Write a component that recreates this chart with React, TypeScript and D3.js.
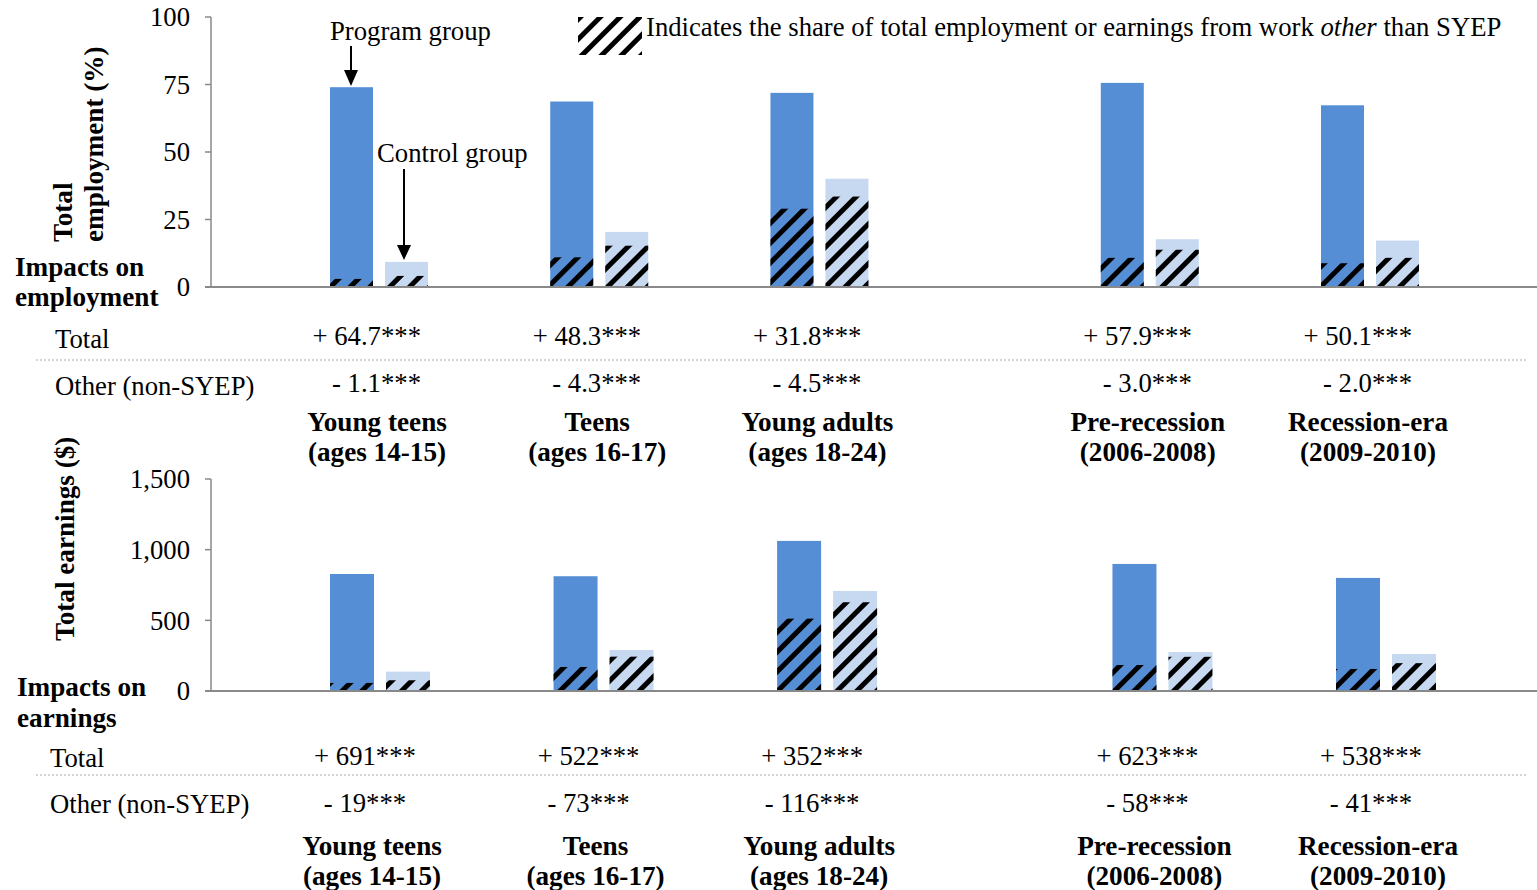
import React from "react";
import * as d3 from "d3";

const categoriesLine1 = ["Young teens", "Teens", "Young adults", "Pre-recession", "Recession-era"];
const categoriesLine2 = ["(ages 14-15)", "(ages 16-17)", "(ages 18-24)", "(2006-2008)", "(2009-2010)"];
const categorySlots = [0, 1, 2, 3.5, 4.5];

const empProgram = [74.0, 68.7, 71.9, 75.6, 67.3];
const empControl = [9.3, 20.4, 40.1, 17.7, 17.2];
const empProgramOther = [3.0, 11.0, 29.0, 10.8, 8.8];
const empControlOther = [4.1, 15.3, 33.5, 13.8, 10.8];
const empTotalImpact = ["+ 64.7***", "+ 48.3***", "+ 31.8***", "+ 57.9***", "+ 50.1***"];
const empOtherImpact = ["- 1.1***", "- 4.3***", "- 4.5***", "- 3.0***", "- 2.0***"];
const empTicks = [0, 25, 50, 75, 100];

const earnProgram = [828, 812, 1062, 899, 800];
const earnControl = [137, 290, 708, 276, 262];
const earnProgramOther = [57, 170, 512, 184, 156];
const earnControlOther = [76, 243, 628, 242, 197];
const earnTotalImpact = ["+ 691***", "+ 522***", "+ 352***", "+ 623***", "+ 538***"];
const earnOtherImpact = ["- 19***", "- 73***", "- 116***", "- 58***", "- 41***"];
const earnTicks = [0, 500, 1000, 1500];

const PROGRAM = "#558ED5";
const CONTROL = "#C6D9F1";
const AXIS = "#898989";
const FONT = "'Liberation Serif', 'Times New Roman', serif";
const FS = 26.7;
const FB = 27.2;

type PanelProps = {
  program: number[];
  control: number[];
  programOther: number[];
  controlOther: number[];
  ticks: number[];
  domainMax: number;
  yTop: number;
  yBottom: number;
  xFirst: number;
  xLast: number;
  barW: number;
  tickFmt: (v: number) => string;
};

function Panel(p: PanelProps) {
  const y = d3.scaleLinear().domain([0, p.domainMax]).range([p.yBottom, p.yTop]);
  const x = d3.scaleLinear().domain([0, 4.5]).range([p.xFirst, p.xLast]);
  const gap = 6;
  return (
    <g>
      {p.program.map((v, i) => {
        const c = x(categorySlots[i]);
        const px = c - gap - p.barW;
        const cx = c + gap;
        return (
          <g key={i}>
            <rect x={px} y={y(v)} width={p.barW} height={p.yBottom - y(v)} fill={PROGRAM} />
            <rect x={px} y={y(p.programOther[i])} width={p.barW} height={p.yBottom - y(p.programOther[i])} fill="url(#hatch)" />
            <rect x={cx} y={y(p.control[i])} width={p.barW} height={p.yBottom - y(p.control[i])} fill={CONTROL} />
            <rect x={cx} y={y(p.controlOther[i])} width={p.barW} height={p.yBottom - y(p.controlOther[i])} fill="url(#hatch)" />
          </g>
        );
      })}
      <line x1={211} x2={211} y1={p.yTop} y2={p.yBottom} stroke={AXIS} strokeWidth={1.5} />
      {p.ticks.map((t) => (
        <g key={t}>
          <line x1={205} x2={211} y1={y(t)} y2={y(t)} stroke={AXIS} strokeWidth={1.5} />
          <text x={190} y={y(t)} dy="0.35em" textAnchor="end" fontSize={FS}>
            {p.tickFmt(t)}
          </text>
        </g>
      ))}
      <line x1={205} x2={1537} y1={p.yBottom} y2={p.yBottom} stroke={AXIS} strokeWidth={2} />
    </g>
  );
}

export default function App() {
  const xTop = d3.scaleLinear().domain([0, 4.5]).range([379, 1370]);
  const xBot = d3.scaleLinear().domain([0, 4.5]).range([380, 1386]);
  return (
    <svg
      width={1537}
      height={890}
      style={{ position: "absolute", left: 0, top: 0, display: "block", background: "#fff" }}
      fontFamily={FONT}
      fill="#000"
    >
      <defs>
        <pattern id="hatch" patternUnits="userSpaceOnUse" width={14} height={14} patternTransform="rotate(45)">
          <rect x={0} y={0} width={5} height={14} fill="#000" />
        </pattern>
      </defs>

      {/* Top panel: employment */}
      <Panel
        program={empProgram}
        control={empControl}
        programOther={empProgramOther}
        controlOther={empControlOther}
        ticks={empTicks}
        domainMax={100}
        yTop={17}
        yBottom={287}
        xFirst={379}
        xLast={1370}
        barW={43}
        tickFmt={(v) => String(v)}
      />
      <text transform="translate(72,242) rotate(-90)" fontSize={FB} fontWeight="bold">Total</text>
      <text transform="translate(103,242) rotate(-90)" fontSize={FB} fontWeight="bold">employment (%)</text>
      <text x={15} y={266} dy="0.35em" fontSize={FB} fontWeight="bold">Impacts on</text>
      <text x={15} y={296} dy="0.35em" fontSize={FB} fontWeight="bold">employment</text>

      {/* Legend and annotations */}
      <rect x={578} y={17} width={64} height={38} fill="#fff" />
      <rect x={578} y={17} width={64} height={38} fill="url(#hatch)" />
      <text x={646} y={27} dy="0.35em" fontSize={FS}>
        Indicates the share of total employment or earnings from work <tspan fontStyle="italic">other</tspan> than SYEP
      </text>
      <text x={330} y={31} dy="0.35em" fontSize={FS}>Program group</text>
      <line x1={351} x2={351} y1={46} y2={72} stroke="#000" strokeWidth={2} />
      <path d="M344,70 L358,70 L351,86 Z" fill="#000" />
      <text x={377} y={153} dy="0.35em" fontSize={FS}>Control group</text>
      <line x1={404} x2={404} y1={169} y2={247} stroke="#000" strokeWidth={2} />
      <path d="M397,245 L411,245 L404,260 Z" fill="#000" />

      {/* Top table */}
      <text x={55} y={339} dy="0.35em" fontSize={FS}>Total</text>
      <line x1={36} x2={1527} y1={360} y2={360} stroke="#aaa" strokeWidth={1} strokeDasharray="2,2" />
      <text x={55} y={386} dy="0.35em" fontSize={FS}>Other (non-SYEP)</text>
      {categoriesLine1.map((c, i) => {
        const cx = xTop(categorySlots[i]);
        return (
          <g key={c}>
            <text x={cx + 42} y={336} dy="0.35em" textAnchor="end" fontSize={FS}>{empTotalImpact[i]}</text>
            <text x={cx + 42} y={383} dy="0.35em" textAnchor="end" fontSize={FS}>{empOtherImpact[i]}</text>
            <text x={cx - 2} y={421} dy="0.35em" textAnchor="middle" fontSize={FB} fontWeight="bold">{c}</text>
            <text x={cx - 2} y={451} dy="0.35em" textAnchor="middle" fontSize={FB} fontWeight="bold">{categoriesLine2[i]}</text>
          </g>
        );
      })}

      {/* Bottom panel: earnings */}
      <Panel
        program={earnProgram}
        control={earnControl}
        programOther={earnProgramOther}
        controlOther={earnControlOther}
        ticks={earnTicks}
        domainMax={1500}
        yTop={479}
        yBottom={691}
        xFirst={380}
        xLast={1386}
        barW={44}
        tickFmt={d3.format(",")}
      />
      <text transform="translate(74,641) rotate(-90)" fontSize={FB} fontWeight="bold">Total earnings ($)</text>
      <text x={17} y={686} dy="0.35em" fontSize={FB} fontWeight="bold">Impacts on</text>
      <text x={17} y={717} dy="0.35em" fontSize={FB} fontWeight="bold">earnings</text>

      <text x={50} y={758} dy="0.35em" fontSize={FS}>Total</text>
      <line x1={36} x2={1527} y1={775} y2={775} stroke="#aaa" strokeWidth={1} strokeDasharray="2,2" />
      <text x={50} y={804} dy="0.35em" fontSize={FS}>Other (non-SYEP)</text>
      {categoriesLine1.map((c, i) => {
        const cx = xBot(categorySlots[i]);
        return (
          <g key={c}>
            <text x={cx - 15} y={756} dy="0.35em" textAnchor="middle" fontSize={FS}>{earnTotalImpact[i]}</text>
            <text x={cx - 15} y={803} dy="0.35em" textAnchor="middle" fontSize={FS}>{earnOtherImpact[i]}</text>
            <text x={cx - 8} y={845} dy="0.35em" textAnchor="middle" fontSize={FB} fontWeight="bold">{c}</text>
            <text x={cx - 8} y={875} dy="0.35em" textAnchor="middle" fontSize={FB} fontWeight="bold">{categoriesLine2[i]}</text>
          </g>
        );
      })}
    </svg>
  );
}
